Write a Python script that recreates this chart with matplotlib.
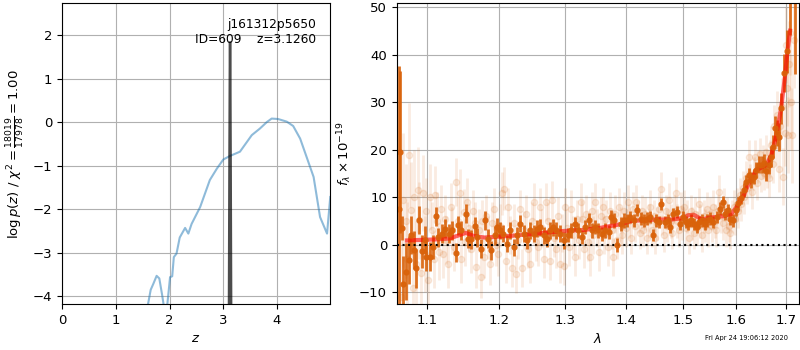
import numpy as np
import matplotlib
matplotlib.use("Agg")
import matplotlib.pyplot as plt
from matplotlib.ticker import ScalarFormatter, NullLocator

plt.rcParams["font.size"] = 9.5

# ---------- redshift PDF (left) ----------
z_broad = [1.55, 1.60, 1.65, 1.70, 1.76, 1.81, 1.86, 1.91, 1.95, 2.01, 2.05, 2.08, 2.13,
           2.19, 2.29, 2.35, 2.41, 2.57, 2.75, 2.88, 3.00, 3.12, 3.31, 3.53, 3.68,
           3.81, 3.90, 4.02, 4.18, 4.30, 4.43, 4.68, 4.80, 4.93, 4.99]
logp_broad = [-4.8, -4.18, -3.85, -3.71, -3.53, -3.59, -3.95, -4.35, -4.30, -3.56, -3.54,
              -3.10, -3.02, -2.65, -2.43, -2.56, -2.34, -1.95, -1.33, -1.07, -0.86, -0.78,
              -0.68, -0.30, -0.15, 0.0, 0.08, 0.07, 0.01, -0.09, -0.38, -1.26, -2.18,
              -2.56, -1.72]

z_peak = [3.105, 3.115, 3.122, 3.126, 3.130, 3.137, 3.147]
logp_peak = [-4.6, -1.0, 1.2, 1.83, 1.2, -1.0, -4.6]

obj_name = "j161312p5650"
obj_id = 609
z_best = 3.1260
chi2_num, chi2_den, chi2_red = 18019, 17978, 1.00

# ---------- spectrum (right) ----------
faint_wave = [1.066, 1.069, 1.072, 1.074, 1.076, 1.079, 1.081, 1.083, 1.086, 1.088, 1.090,
              1.092, 1.095, 1.097, 1.099, 1.102, 1.104, 1.107, 1.109, 1.111, 1.114, 1.116,
              1.119, 1.121, 1.124, 1.126, 1.129, 1.132, 1.134, 1.137, 1.140, 1.142, 1.145,
              1.147, 1.150, 1.152, 1.155, 1.158, 1.160, 1.163, 1.166, 1.168, 1.171, 1.174,
              1.176, 1.179, 1.182, 1.184, 1.187, 1.190, 1.193, 1.196, 1.199, 1.202, 1.205,
              1.208, 1.211, 1.214, 1.217, 1.220, 1.223, 1.226, 1.229, 1.232, 1.235, 1.238,
              1.241, 1.244, 1.247, 1.250, 1.253, 1.256, 1.259, 1.262, 1.265, 1.268, 1.271,
              1.274, 1.277, 1.280, 1.283, 1.286, 1.289, 1.292, 1.295, 1.298, 1.301, 1.304,
              1.307, 1.310, 1.313, 1.316, 1.319, 1.322, 1.325, 1.328, 1.331, 1.334, 1.337,
              1.340, 1.343, 1.346, 1.349, 1.352, 1.355, 1.358, 1.361, 1.364, 1.367, 1.370,
              1.373, 1.376, 1.379, 1.382, 1.385, 1.388, 1.391, 1.394, 1.397, 1.400, 1.403,
              1.406, 1.409, 1.412, 1.415, 1.418, 1.421, 1.424, 1.427, 1.430, 1.433, 1.436,
              1.439, 1.442, 1.445, 1.448, 1.451, 1.454, 1.457, 1.460, 1.463, 1.466, 1.469,
              1.472, 1.475, 1.478, 1.481, 1.484, 1.487, 1.490, 1.493, 1.496, 1.499, 1.502,
              1.505, 1.508, 1.511, 1.514, 1.517, 1.520, 1.523, 1.526, 1.529, 1.532, 1.535,
              1.538, 1.541, 1.544, 1.547, 1.550, 1.553, 1.556, 1.559, 1.562, 1.565, 1.568,
              1.571, 1.574, 1.577, 1.580, 1.583, 1.586, 1.589, 1.592, 1.595, 1.598, 1.601,
              1.604, 1.607, 1.610, 1.613, 1.616, 1.619, 1.622, 1.625, 1.628, 1.631, 1.634,
              1.637, 1.640, 1.643, 1.646, 1.649, 1.652, 1.655, 1.658, 1.661, 1.664, 1.667,
              1.670, 1.673, 1.676, 1.679, 1.682, 1.685, 1.688, 1.691, 1.694, 1.697, 1.699,
              1.701, 1.703, 1.705, 1.707, 1.710, 1.713, 1.716]
faint_flux = [-11.0, 9.4, 5.0, -3.0, 18.9, 7.3, -9.0, 10.0, -4.0, 11.5, 5.1,
              -6.0, 10.8, -2.0, 7.0, -7.5, 10.0, 3.0, -3.0, 10.5, 5.0, -1.5,
              7.5, -2.0, 5.5, 1.0, -4.0, 8.0, 3.0, -0.5, 13.2, 5.0, 10.9,
              -3.0, 6.8, 0.5, 9.0, 3.5, -1.0, 7.0, 4.5, -4.7, 3.0, -6.8,
              5.0, -2.5, 6.0, 1.5, -4.0, 4.5, 7.5, 0.0, -2.0, 4.0, 10.8,
              11.8, -3.5, 8.0, 2.0, -4.8, 4.5, -6.1, 1.0, 7.5, -4.8, 3.0,
              6.5, -1.0, -4.0, 5.0, 9.0, 0.5, -0.5, 8.0, 3.5, -3.0, 9.0,
              5.0, -3.5, 9.5, 1.5, -1.0, 6.0, -4.0, 2.5, -4.4, 8.0, 3.5,
              -0.5, 7.5, 2.0, -2.6, 5.5, 1.0, 8.9, 5.5, -1.0, 6.5, 0.5,
              -2.5, 7.0, 2.0, 9.0, 3.5, -1.5, 6.0, 8.0, 2.0, 5.5, -0.5,
              7.0, 3.0, -2.6, 6.5, 1.0, 8.0, 4.0, 2.0, 7.0, 3.5, 9.0,
              5.0, 1.5, 7.5, 4.0, 9.0, 6.0, 2.5, 7.0, 3.0, 6.5, 1.5,
              5.0, 8.0, 3.0, 6.0, 1.5, 4.5, 7.5, 11.8, 5.5, 2.0, 7.0,
              4.0, 9.5, 5.0, 2.5, 7.0, 10.8, 5.0, 3.0, 7.5, 4.5, 8.0,
              3.5, 6.0, 1.5, 7.0, 4.5, 2.5, 6.5, 3.5, 8.5, 5.0, 2.0,
              6.0, 4.0, 7.5, 3.0, 6.5, 4.0, 8.0, 5.0, 3.0, 7.0, 11.1,
              6.0, 4.5, 8.5, 3.0, 6.5, 4.0, 2.5, 6.0, 8.0, 5.5, 8.5,
              7.0, 10.5, 8.5, 12.0, 10.0, 14.0, 12.0, 18.5, 13.5, 11.0, 15.0,
              18.5, 13.0, 16.5, 19.0, 14.5, 17.5, 15.0, 19.5, 16.0, 14.0, 18.0,
              21.0, 17.0, 24.9, 21.0, 27.3, 16.0, 25.0, 29.0, 14.3, 23.5, 42.0,
              33.0, 23.1, 38.0, 44.6, 30.0, 23.0, 43.0]
faint_err = [12, 14, 12, 12, 11, 10, 10, 10, 9, 9, 8,
             8, 8, 8, 7, 7, 7, 6, 6, 6, 6, 6,
             5, 5, 5, 5, 5, 5, 5, 5, 5, 5, 5,
             5, 5, 5, 5, 5, 5, 4.5, 4.5, 4.5, 4.5, 4.5,
             4.5, 4.5, 4.5, 4.5, 4.5, 4.5, 4.5, 4.5, 4.5, 4.5, 4.5,
             4.5, 4.5, 4, 4, 4, 4, 4, 4, 4, 4, 4,
             4, 4, 4, 4, 4, 4, 4, 4, 4, 4, 4,
             4, 4, 4, 4, 4, 4, 4, 4, 4, 4, 4,
             4, 4, 4, 4, 4, 4, 4, 4, 4, 4, 4,
             4, 4, 4, 4, 4, 4, 4, 4, 4, 4, 4,
             4, 4, 4, 4, 4, 4, 4, 4, 4, 4, 3.5,
             3.5, 3.5, 3.5, 3.5, 3.5, 3.5, 3.5, 3.5, 3.5, 3.5, 3.5,
             3.5, 3.5, 3.5, 3.5, 3.5, 3.5, 3.5, 3.5, 3.5, 3.5, 3.5,
             3.5, 3.5, 3.5, 3.5, 3.5, 3.5, 3.5, 3.5, 3.5, 3.5, 3.5,
             3.5, 3.5, 3.5, 3.5, 3.5, 3.5, 3.5, 3.5, 3.5, 3.5, 3.5,
             3.5, 3.5, 3.5, 3.5, 3.5, 3.5, 3.5, 3.5, 3.5, 3.5, 3.5,
             3.5, 3.5, 3.5, 3.5, 3.5, 3.5, 3.5, 3.5, 3.5, 3.5, 3.5,
             3.5, 3.5, 3.5, 3.5, 3.5, 3.5, 3.5, 3.5, 3.5, 3.5, 3.5,
             3.5, 3.5, 3.5, 3.5, 3.5, 3.5, 3.5, 3.5, 4, 4, 4,
             4, 4, 4.5, 4.5, 5, 5, 5, 6, 6, 7, 8,
             8, 8, 9, 9, 10, 10, 10]

bin_wave = [1.0633, 1.0652, 1.0673, 1.068, 1.073, 1.076, 1.0785, 1.0828, 1.0858, 1.0894,
            1.093, 1.097, 1.099, 1.104, 1.1075, 1.112, 1.115, 1.12, 1.125, 1.13, 1.134,
            1.139, 1.142, 1.147, 1.153, 1.156, 1.161, 1.166, 1.169, 1.175, 1.18, 1.184,
            1.189, 1.194, 1.198, 1.2025, 1.2066, 1.2116, 1.2167, 1.2217, 1.2268, 1.2318,
            1.237, 1.242, 1.247, 1.252, 1.257, 1.261, 1.267, 1.272, 1.277, 1.282, 1.287,
            1.293, 1.298, 1.305, 1.31, 1.316, 1.321, 1.327, 1.332, 1.338, 1.343, 1.349,
            1.354, 1.36, 1.365, 1.371, 1.375, 1.38, 1.385, 1.391, 1.396, 1.402, 1.4076,
            1.413, 1.419, 1.425, 1.431, 1.437, 1.442, 1.447, 1.452, 1.457, 1.461, 1.467,
            1.473, 1.477, 1.483, 1.489, 1.495, 1.5006, 1.505, 1.51, 1.515, 1.52, 1.525,
            1.53, 1.535, 1.54, 1.545, 1.55, 1.556, 1.563, 1.569, 1.574, 1.579, 1.584,
            1.589, 1.594, 1.6, 1.6045, 1.61, 1.615, 1.62, 1.625, 1.629, 1.634, 1.639,
            1.644, 1.65, 1.655, 1.659, 1.664, 1.669, 1.674, 1.678, 1.682, 1.686, 1.69,
            1.696, 1.701, 1.707, 1.718]
bin_flux = [7.5, 19.5, 3.5, -8.3, -5.7, -3.2, 2.1, -1.1, -5.0, 5.2,
            -1.4, 1.0, -2.5, -2.5, -0.5, 6.0, 1.6, 2.3, 3.4, 2.3, 3.0,
            -1.7, 4.1, 3.0, 6.5, 1.3, 1.1, 3.9, 1.6, -0.8, 5.1, 1.3,
            -1.2, 2.0, 3.7, 3.0, 2.3, 0.2, 3.0, -0.5, 2.0, 4.4,
            2.3, 0.9, 3.0, 2.3, 3.4, 3.7, 2.0, 1.3, 3.0, 3.7, 3.0,
            2.3, 0.9, 2.0, 3.0, 4.4, 3.0, 1.6, 3.7, 5.1, 3.0, 3.7,
            3.0, 2.3, 3.0, 2.7, 5.8, 5.1, -0.1, 4.4, 5.1, 5.1, 5.8,
            5.1, 7.3, 5.5, 5.1, 5.5, 5.8, 2.0, 5.1, 4.8, 8.5, 4.8,
            5.1, 3.7, 6.5, 6.9, 4.4, 5.8, 4.8, 4.4, 5.1, 4.4, 3.7,
            4.8, 5.1, 4.4, 5.1, 5.5, 4.8, 5.8, 7.6, 9.0, 6.5, 7.3,
            5.5, 5.1, 7.3, 8.7, 9.9, 11.5, 13.2, 14.6, 13.6, 14.3, 15.7,
            16.8, 16.8, 17.1, 15.4, 16.8, 18.5, 20.6, 24.5, 23.5, 22.7, 28.7,
            36.1, 40.7, 55.0, 52.0]
bin_err = [30, 17, 2.5, 6, 6, 5, 4, 4, 4, 3,
           3.5, 3, 3, 3, 2.5, 2, 2, 2, 2, 2, 2,
           2, 2, 2, 2, 2, 2, 2, 2, 2, 2, 2,
           2, 2, 2, 1.8, 1.8, 1.8, 1.8, 1.8, 1.8, 1.8,
           1.8, 1.8, 1.8, 1.8, 1.8, 1.8, 1.8, 1.8, 1.8, 1.8, 1.8,
           1.8, 1.8, 1.5, 1.5, 1.5, 1.5, 1.5, 1.5, 1.5, 1.5, 1.5,
           1.5, 1.5, 1.5, 1.5, 1.5, 1.5, 1.5, 1.5, 1.5, 1.3, 1.3,
           1.3, 1.3, 1.3, 1.3, 1.3, 1.3, 1.3, 1.3, 1.3, 1.3, 1.3,
           1.3, 1.3, 1.3, 1.3, 1.3, 1.3, 1.3, 1.3, 1.3, 1.3, 1.3,
           1.3, 1.3, 1.3, 1.3, 1.3, 1.3, 1.3, 1.3, 1.3, 1.3, 1.3,
           1.3, 1.3, 1.3, 1.4, 1.4, 1.5, 1.5, 1.5, 1.6, 1.6, 1.7,
           1.8, 1.8, 1.9, 2.0, 2.0, 2.2, 2.4, 2.6, 2.8, 3.0, 3.3,
           4.0, 4.5, 11, 16]

model_wave = [1.0737, 1.09, 1.11, 1.13, 1.142, 1.153, 1.165, 1.18, 1.20, 1.23, 1.26,
              1.30, 1.33, 1.36, 1.39, 1.41, 1.45, 1.48, 1.50, 1.51, 1.52, 1.535, 1.55,
              1.575, 1.59, 1.60, 1.615, 1.625, 1.64, 1.66, 1.67, 1.68, 1.69, 1.697,
              1.703, 1.708]
model_flux = [0.9, 1.0, 1.1, 1.3, 1.9, 2.5, 1.8, 1.5, 1.7, 2.0, 2.4,
              2.9, 3.1, 3.6, 4.3, 5.0, 5.3, 5.3, 5.6, 6.2, 6.3, 5.3, 5.7,
              6.0, 6.4, 7.8, 10.4, 13.0, 15.7, 16.8, 19.0, 23.0, 29.0, 35.0,
              41.0, 45.0]

lam_ticks = [1.1, 1.2, 1.3, 1.4, 1.5, 1.6, 1.7]
timestamp = "Fri Apr 24 19:06:12 2020"

orange = "#d9620a"

fig = plt.figure(figsize=(8, 3.5), dpi=100)
ax1 = fig.add_axes([0.0775, 0.131, 0.335, 0.86])
ax2 = fig.add_axes([0.496, 0.131, 0.503, 0.86])

# ---------- left panel ----------
ax1.plot(z_broad, logp_broad, color="C0", alpha=0.5, lw=1.5)
ax1.plot(z_peak, logp_peak, color="k", alpha=0.7, lw=1.8)
ax1.set_xlim(0, 4.985)
ax1.set_ylim(-4.18, 2.73)
ax1.set_xticks([0, 1, 2, 3, 4])
ax1.set_yticks([-4, -3, -2, -1, 0, 1, 2])
ax1.grid()
ax1.set_xlabel(r"$z$")
ax1.set_ylabel(r"$\log p(z)$" + " / " +
               r"$\chi^2=\frac{%d}{%d}=%.2f$" % (chi2_num, chi2_den, chi2_red))
ax1.text(0.95, 0.95, "%s\nID=%d    z=%.4f" % (obj_name, obj_id, z_best),
         ha="right", va="top", transform=ax1.transAxes, fontsize=8.8)

# ---------- right panel ----------
ax2.errorbar(faint_wave, faint_flux, faint_err, marker="o", ms=4.5, linestyle="None",
             color=orange, alpha=0.12, elinewidth=2)
ax2.errorbar(bin_wave, bin_flux, bin_err, marker="o", ms=3.5, linestyle="None",
             color=orange, alpha=0.9, elinewidth=2)
ax2.plot(model_wave, model_flux, color="r", alpha=0.6, lw=3)
ax2.axhline(0, color="k", linestyle=":", lw=1.5)

ax2.set_xscale("log")
ax2.set_xlim(1.0606, 1.727)
ax2.set_ylim(-12.5, 50.8)
ax2.set_xticks(lam_ticks)
ax2.xaxis.set_major_formatter(ScalarFormatter())
ax2.xaxis.set_minor_locator(NullLocator())
ax2.set_yticks([-10, 0, 10, 20, 30, 40, 50])
ax2.grid()
ax2.set_xlabel(r"$\lambda$")
ax2.set_ylabel(r"$f_\lambda \times 10^{-19}$")

fig.text(0.985, 0.027, timestamp, ha="right", va="bottom", fontsize=4.8)

fig.savefig("out.png", dpi=100)
